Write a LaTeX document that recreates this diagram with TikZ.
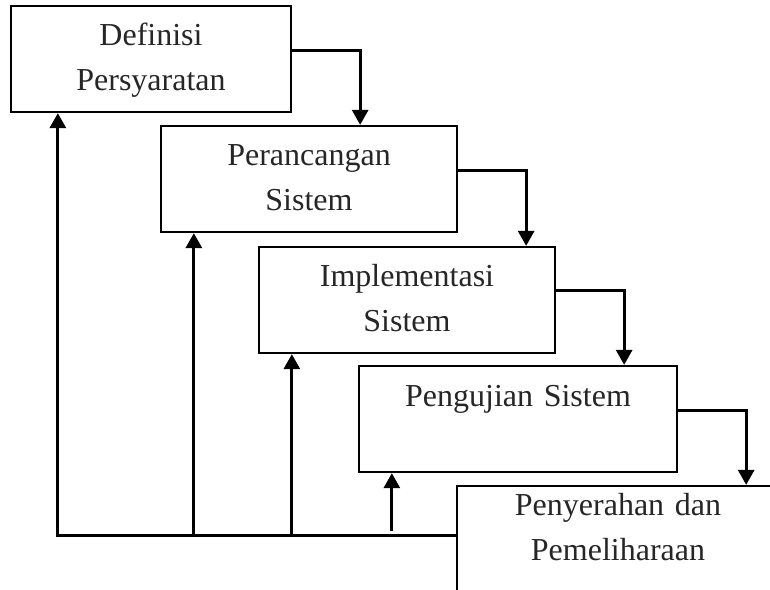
\documentclass[tikz,border=0pt]{standalone}
\usepackage{fontspec}
\setmainfont{Liberation Serif}
\usetikzlibrary{arrows.meta}
\tikzset{
  stagebox/.style={draw=black, line width=2.3pt, minimum height=106pt, inner sep=0pt},
  stagetext/.style={text width=260pt, align=center, inner sep=0pt, anchor=base,
    font=\fontsize{32}{45}\selectfont, text=black!85},
  flow/.style={-{Triangle[length=15pt, width=16pt]}, line width=3pt},
}

\begin{document}
\begin{tikzpicture}[x=1pt, y=-1pt]
  \useasboundingbox (0,0) rectangle (770,589);
  \clip (0,0) rectangle (770,589);
  % the five stages
  \node[stagebox, minimum width=280pt] (req) at (151,59) {};
  \node[stagebox, minimum width=296pt] (design) at (309,179) {};
  \node[stagebox, minimum width=296pt] (impl) at (407,300) {};
  \node[stagebox, minimum width=318pt] (test) at (518,419) {};
  \node[stagebox, minimum width=322pt] (deploy) at (618,539) {};
  \node[stagetext] (reqText) at ([yshift=-41pt]req.north) {Definisi\\Persyaratan};
  \node[stagetext] (designText) at ([yshift=-41pt]design.north) {Perancangan\\Sistem};
  \node[stagetext] (implText) at ([yshift=-41pt]impl.north) {Implementasi\\Sistem};
  \node[stagetext] (testText) at ([yshift=-42pt]test.north) {Pengujian Sistem};
  \node[stagetext] (deployText) at ([yshift=-31pt]deploy.north) {Penyerahan dan\\Pemeliharaan};
  % going down
  \draw[flow] ([yshift=-46pt]req.north east) -| ([xshift=68pt]req.east |- design.north);
  \draw[flow] ([yshift=-46pt]design.north east) -| ([xshift=68pt]design.east |- impl.north);
  \draw[flow] ([yshift=-45pt]impl.north east) -| ([xshift=68pt]impl.east |- test.north);
  \draw[flow] ([yshift=-46pt]test.north east) -| ([xshift=68pt]test.east |- deploy.north);
  % going back
  \coordinate (bus) at ([yshift=-51pt]deploy.north west);
  \draw[flow] (bus) -| ([xshift=48pt]req.south west);
  \draw[flow] ([xshift=34pt]design.south west |- bus) -- ([xshift=34pt]design.south west);
  \draw[flow] ([xshift=34pt]impl.south west |- bus) -- ([xshift=34pt]impl.south west);
  \draw[flow] ([xshift=34pt,yshift=5pt]test.south west |- bus) -- ([xshift=34pt]test.south west);
\end{tikzpicture}
\end{document}
